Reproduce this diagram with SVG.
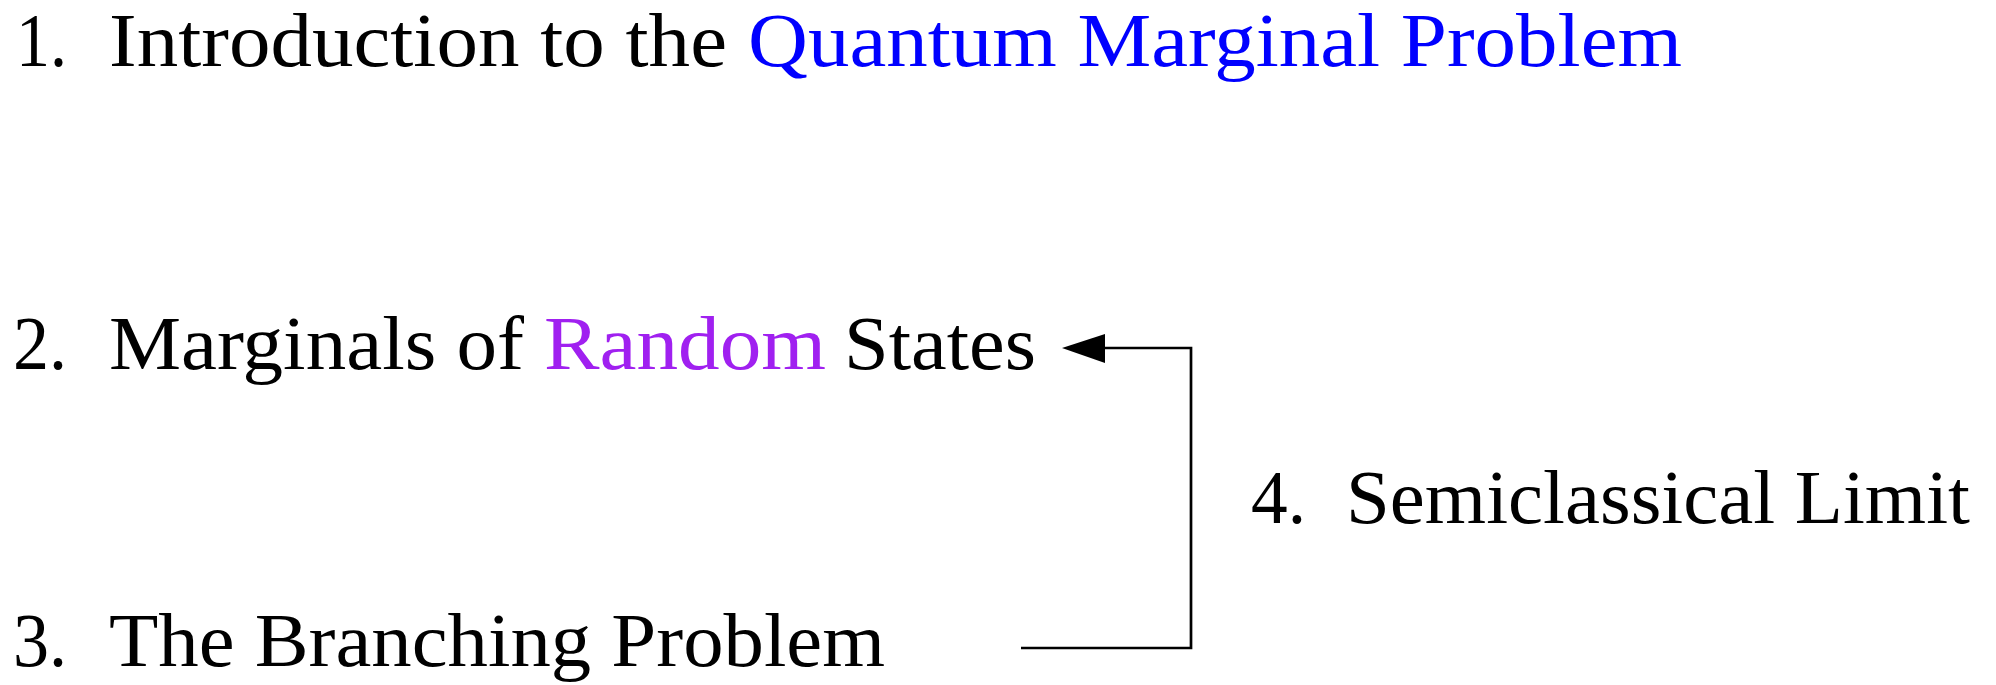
<svg xmlns="http://www.w3.org/2000/svg" width="1996" height="685" viewBox="0 0 1996 685">
<style>
text{font-family:"Liberation Serif","Times New Roman",serif;font-size:77px;fill:#000}
.blue{fill:#0000ff}
.purple{fill:#a020f0}
.conn{fill:none;stroke:#000;stroke-width:2.7}
</style>
<defs>
<marker id="arr" markerWidth="16" markerHeight="11" refX="16" refY="5.5" orient="auto" markerUnits="userSpaceOnUse" viewBox="0 0 16 11">
<path d="M0,0 L16,5.5 L0,11 z" fill="#000"/>
</marker>
</defs>
<g id="node1">
<text x="16" y="66" textLength="51" lengthAdjust="spacingAndGlyphs">1.</text>
<text x="109" y="66" textLength="618" lengthAdjust="spacingAndGlyphs">Introduction to the</text>
<text class="blue" x="748" y="66" textLength="934" lengthAdjust="spacingAndGlyphs">Quantum Marginal Problem</text>
</g>
<g id="node2">
<text x="13" y="369" textLength="54" lengthAdjust="spacingAndGlyphs">2.</text>
<text x="109" y="369" textLength="415" lengthAdjust="spacingAndGlyphs">Marginals of</text>
<text class="purple" x="544" y="369" textLength="282" lengthAdjust="spacingAndGlyphs">Random</text>
<text x="844" y="369" textLength="192" lengthAdjust="spacingAndGlyphs">States</text>
</g>
<g id="node3">
<text x="13" y="666" textLength="54" lengthAdjust="spacingAndGlyphs">3.</text>
<text x="109" y="666" textLength="776" lengthAdjust="spacingAndGlyphs">The Branching Problem</text>
</g>
<g id="node4">
<text x="1251" y="523" textLength="55" lengthAdjust="spacingAndGlyphs">4.</text>
<text x="1346" y="523" textLength="624" lengthAdjust="spacingAndGlyphs">Semiclassical Limit</text>
</g>
<g id="connectors">
<path class="conn" d="M1021,648 H1191 V348 H1105"/>
<path d="M1062,348 L1105,334 L1105,363 z" fill="#000"/>
</g>
</svg>
